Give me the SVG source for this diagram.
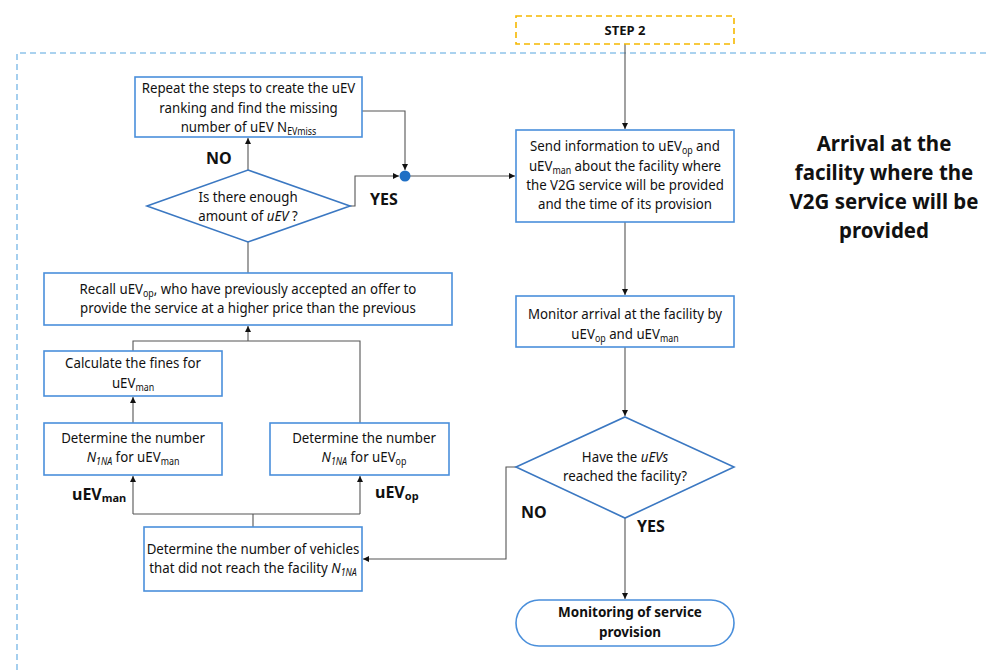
<svg xmlns="http://www.w3.org/2000/svg" width="987" height="670" viewBox="0 0 987 670">
<defs>
<marker id="arr" markerWidth="8" markerHeight="8" refX="7" refY="4" orient="auto" markerUnits="userSpaceOnUse">
<path d="M1,1 L7,4 L1,7 Z" fill="#111"/>
</marker>
<style>
.box{fill:#fff;stroke:#4a8fdb;stroke-width:1.6}
.dia{fill:#fff;stroke:#3b78c2;stroke-width:1.6}
.t{font-family:"Noto Sans","Liberation Sans",sans-serif;font-size:15px;fill:#111;text-anchor:middle}
.b{font-family:"Noto Sans","Liberation Sans",sans-serif;font-weight:bold;font-size:16px;fill:#111}
.s{font-size:10px}
.i{font-style:italic}
.c{fill:none;stroke:#555;stroke-width:1.1}
</style>
</defs>
<rect width="987" height="670" fill="#fff"/>
<path d="M17,670 L17,53 L987,53" fill="none" stroke="#8fc3ea" stroke-width="1.6" stroke-dasharray="6,4"/>

<g id="connectors">
<path class="c" d="M625,44 L625,129" marker-end="url(#arr)"/>
<path class="c" d="M362,111 L405,111 L405,170" marker-end="url(#arr)"/>
<path class="c" d="M350,206 L355,206 L355,176 L399,176" marker-end="url(#arr)"/>
<path class="c" d="M405,176 L515,176" marker-end="url(#arr)"/>
<path class="c" d="M248,170 L248,138" marker-end="url(#arr)"/>
<path class="c" d="M248,242 L248,273"/>
<path class="c" d="M133,351 L133,341 L360,341 L360,423"/>
<path class="c" d="M248,341 L248,326" marker-end="url(#arr)"/>
<path class="c" d="M133,423 L133,397" marker-end="url(#arr)"/>
<path class="c" d="M253,527 L253,514"/>
<path class="c" d="M133,514 L360,514"/>
<path class="c" d="M133,514 L133,476" marker-end="url(#arr)"/>
<path class="c" d="M360,514 L360,476" marker-end="url(#arr)"/>
<path class="c" d="M625,222 L625,295" marker-end="url(#arr)"/>
<path class="c" d="M625,347 L625,416" marker-end="url(#arr)"/>
<path class="c" d="M516,467 L506,467 L506,559 L363,559" marker-end="url(#arr)"/>
<path class="c" d="M625,518 L625,599" marker-end="url(#arr)"/>
<circle cx="405" cy="176" r="5.5" fill="#1f6fc5"/>
</g>

<g id="step2">
<rect x="516" y="16" width="218" height="28" fill="#fff" stroke="#f5b800" stroke-width="1.6" stroke-dasharray="6,4"/>
<text class="b" x="625" y="35" text-anchor="middle" style="font-size:13px">STEP 2</text>
</g>

<g id="title">
<text class="b" text-anchor="middle" style="font-size:22px" transform="translate(884 0) scale(0.93 1)"><tspan x="0" y="151">Arrival at the</tspan><tspan x="0" y="180">facility where the</tspan><tspan x="0" y="209">V2G service will be</tspan><tspan x="0" y="238">provided</tspan></text>
</g>

<g id="repeat">
<rect class="box" x="135" y="77" width="227" height="60"/>
<text class="t" transform="translate(248.5 0) scale(0.885 1)"><tspan x="0" y="93">Repeat the steps to create the uEV</tspan><tspan x="0" y="113">ranking and find the missing</tspan><tspan x="0" y="132">number of uEV N<tspan class="s" dy="3">EVmiss</tspan></tspan></text>
</g>

<g id="enough">
<polygon class="dia" points="248,170 350,206 248,242 147,206"/>
<text class="t" transform="translate(248 0) scale(0.885 1)"><tspan x="0" y="202">Is there enough</tspan><tspan x="0" y="221">amount of <tspan class="i">uEV</tspan> ?</tspan></text>
</g>

<g id="labels">
<text class="b" x="206" y="164">NO</text>
<text class="b" x="370" y="205">YES</text>
<text class="b" x="521" y="518">NO</text>
<text class="b" x="637" y="532">YES</text>
<text class="b" x="72" y="500">uEV<tspan style="font-size:11px" dy="2">man</tspan></text>
<text class="b" x="375" y="498">uEV<tspan style="font-size:11px" dy="2">op</tspan></text>
</g>

<g id="send">
<rect class="box" x="516" y="130" width="218" height="92"/>
<text class="t" transform="translate(625 0) scale(0.885 1)"><tspan x="0" y="151">Send information to uEV<tspan class="s" dy="3">op</tspan><tspan dy="-3"> and</tspan></tspan><tspan x="0" y="171">uEV<tspan class="s" dy="3">man</tspan><tspan dy="-3">  about the facility where</tspan></tspan><tspan x="0" y="190">the V2G service will be provided</tspan><tspan x="0" y="209">and the time of its provision</tspan></text>
</g>

<g id="recall">
<rect class="box" x="44" y="273" width="408" height="52"/>
<text class="t" transform="translate(248 0) scale(0.885 1)"><tspan x="0" y="294">Recall uEV<tspan class="s" dy="3">op</tspan><tspan dy="-3">, who have previously accepted an offer to</tspan></tspan><tspan x="0" y="313">provide the service at a higher price than the previous</tspan></text>
</g>

<g id="fines">
<rect class="box" x="44" y="351" width="178" height="45"/>
<text class="t" transform="translate(133 0) scale(0.885 1)"><tspan x="0" y="368">Calculate the fines for</tspan><tspan x="0" y="388">uEV<tspan class="s" dy="3">man</tspan></tspan></text>
</g>

<g id="n1na-man">
<rect class="box" x="44" y="423" width="178" height="52"/>
<text class="t" transform="translate(133 0) scale(0.885 1)"><tspan x="0" y="443">Determine the number</tspan><tspan x="0" y="462"><tspan class="i">N</tspan><tspan class="s i" dy="3">1NA</tspan><tspan dy="-3"> for uEV</tspan><tspan class="s" dy="3">man</tspan></tspan></text>
</g>

<g id="n1na-op">
<rect class="box" x="270" y="423" width="179" height="52"/>
<text class="t" transform="translate(364 0) scale(0.885 1)"><tspan x="0" y="443">Determine the number</tspan><tspan x="0" y="462"><tspan class="i">N</tspan><tspan class="s i" dy="3">1NA</tspan><tspan dy="-3"> for uEV</tspan><tspan class="s" dy="3">op</tspan></tspan></text>
</g>

<g id="vehicles">
<rect class="box" x="144" y="527" width="218" height="64"/>
<text class="t" transform="translate(253 0) scale(0.885 1)"><tspan x="0" y="554">Determine the number of vehicles</tspan><tspan x="0" y="573">that did not reach the facility <tspan class="i">N</tspan><tspan class="s i" dy="3">1NA</tspan></tspan></text>
</g>

<g id="monitor">
<rect class="box" x="516" y="296" width="218" height="51"/>
<text class="t" transform="translate(625 0) scale(0.885 1)"><tspan x="0" y="319">Monitor arrival at the facility by</tspan><tspan x="0" y="339">uEV<tspan class="s" dy="3">op</tspan><tspan dy="-3"> and uEV</tspan><tspan class="s" dy="3">man</tspan></tspan></text>
</g>

<g id="reached">
<polygon class="dia" points="625,417 734,467 625,518 516,467"/>
<text class="t" transform="translate(625 0) scale(0.885 1)"><tspan x="0" y="462">Have the <tspan class="i">uEVs</tspan></tspan><tspan x="0" y="481">reached the facility?</tspan></text>
</g>

<g id="end">
<rect class="box" x="516" y="600" width="218" height="46" rx="23"/>
<text class="t" transform="translate(630 0) scale(0.9 1)" style="font-weight:bold"><tspan x="0" y="617">Monitoring of service</tspan><tspan x="0" y="637">provision</tspan></text>
</g>
</svg>
